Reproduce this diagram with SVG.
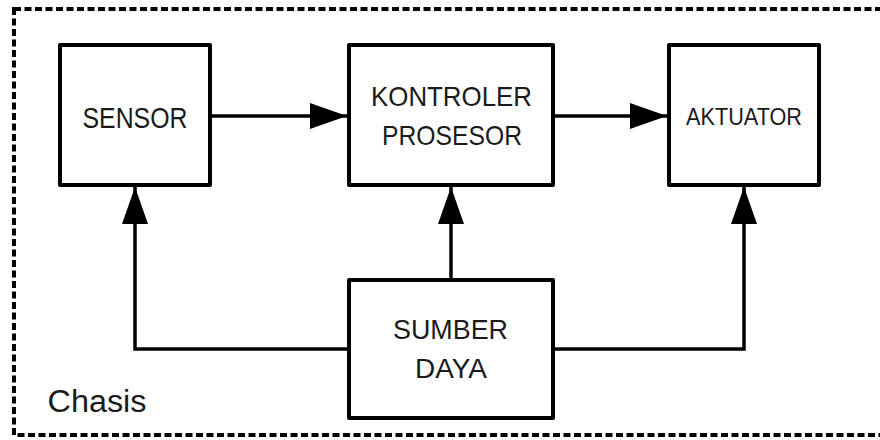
<svg xmlns="http://www.w3.org/2000/svg" width="880" height="440" viewBox="0 0 880 440">
<style>
.box{fill:#fff;stroke:#000;stroke-width:4;stroke-linejoin:round}
.lbl{font-family:"Liberation Sans",Arial,sans-serif;fill:#1a1a1a;text-anchor:middle}
.con{fill:none;stroke:#000;stroke-width:3.5}
.border{fill:none;stroke:#000;stroke-width:4;stroke-dasharray:7 3.5}
</style>
<defs>
<marker id="ah" markerUnits="userSpaceOnUse" viewBox="0 0 37 26" refX="37" refY="13" markerWidth="37" markerHeight="26" orient="auto">
<path d="M0,0 L37,13 L0,26 Z" fill="#000"/>
</marker>
</defs>
<rect class="border" x="14" y="9" width="900" height="426"/>
<text class="lbl" x="97" y="412" font-size="31" textLength="99" lengthAdjust="spacingAndGlyphs">Chasis</text>
<g id="connectors">
<path class="con" d="M210,116 L347,116" marker-end="url(#ah)"/>
<path class="con" d="M553,116 L667,116" marker-end="url(#ah)"/>
<path class="con" d="M349,349 L135,349 L135,187" marker-end="url(#ah)"/>
<path class="con" d="M451,280 L451,187" marker-end="url(#ah)"/>
<path class="con" d="M553,349 L744,349 L744,187" marker-end="url(#ah)"/>
</g>
<g id="sensor">
<rect class="box" x="60" y="45" width="150" height="140"/>
<text class="lbl" x="135" y="128" font-size="29" textLength="105" lengthAdjust="spacingAndGlyphs">SENSOR</text>
</g>
<g id="kontroler">
<rect class="box" x="349" y="45" width="204" height="140"/>
<text class="lbl" x="451.5" y="106" font-size="28" textLength="161" lengthAdjust="spacingAndGlyphs">KONTROLER</text>
<text class="lbl" x="452" y="145" font-size="28" textLength="140" lengthAdjust="spacingAndGlyphs">PROSESOR</text>
</g>
<g id="aktuator">
<rect class="box" x="669" y="45" width="150" height="140"/>
<text class="lbl" x="744" y="125" font-size="23.5" textLength="116" lengthAdjust="spacingAndGlyphs">AKTUATOR</text>
</g>
<g id="sumber">
<rect class="box" x="349" y="280" width="204" height="138"/>
<text class="lbl" x="450.5" y="339" font-size="28" textLength="115" lengthAdjust="spacingAndGlyphs">SUMBER</text>
<text class="lbl" x="451" y="378" font-size="28" textLength="72" lengthAdjust="spacingAndGlyphs">DAYA</text>
</g>
</svg>
